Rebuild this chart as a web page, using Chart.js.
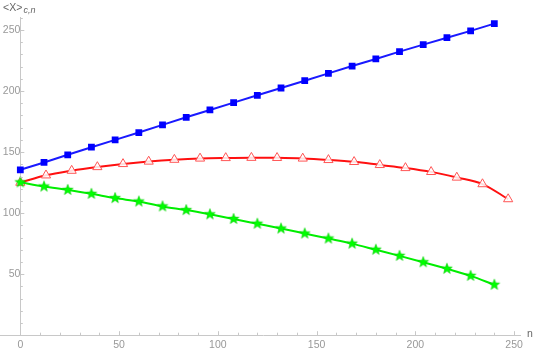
<!DOCTYPE html>
<html>
<head>
<meta charset="utf-8">
<script src="https://cdn.jsdelivr.net/npm/chart.js@4"></script>
<style>
  body { margin: 0; background: #fff; }
</style>
</head>
<body>
<canvas id="graph" width="534" height="350"></canvas>
<script>
// data
const blueN = [0, 12, 24, 36, 48, 60, 72, 84, 96, 108, 120, 132, 144, 156, 168, 180, 192, 204, 216, 228, 240];
const blueY = [135.5, 141.5, 147.8, 154, 160, 166, 172.3, 178.5, 184.5, 190.5, 196.5, 202.5, 208.5, 214.5, 220.5, 226.3, 232.3, 238, 243.7, 249.3, 255.2];

const redN = [0, 13, 26, 39, 52, 65, 78, 91, 104, 117, 130, 143, 156, 169, 182, 195, 208, 221, 234, 247];
const redY = [125, 131, 134.8, 137.8, 140.3, 142.3, 143.8, 144.8, 145.2, 145.4, 145.3, 144.8, 143.6, 142, 139.5, 137, 133.8, 129.2, 123.8, 111.5];

const greenN = [0, 12, 24, 36, 48, 60, 72, 84, 96, 108, 120, 132, 144, 156, 168, 180, 192, 204, 216, 228, 240];
const greenY = [125.2, 121.8, 119, 115.8, 112.3, 109.5, 105.5, 102.5, 99, 95.2, 91.3, 87.4, 83.3, 79.2, 75, 70, 65, 59.8, 54.4, 48.6, 41.3];

const xTicks = [0, 50, 100, 150, 200, 250];
const yTicks = [50, 100, 150, 200, 250];

function points(xs, ys) {
    let pts = [];
    for (let i = 0; i < xs.length; i++) {
        pts.push({ x: xs[i], y: ys[i] });
    }
    return pts;
}

// filled five point star for the green series
function starImage(r, color) {
    const c = document.createElement("canvas");
    const s = Math.ceil(r * 2 + 2);
    c.width = s;
    c.height = s;
    const g = c.getContext("2d");
    g.translate(s / 2, s / 2);
    g.beginPath();
    for (let i = 0; i < 10; i++) {
        const rad = i % 2 === 0 ? r : r * 0.42;
        const a = -Math.PI / 2 + i * Math.PI / 5;
        g.lineTo(Math.cos(a) * rad, Math.sin(a) * rad);
    }
    g.closePath();
    g.fillStyle = color;
    g.fill();
    g.strokeStyle = "#00cc00";
    g.lineWidth = 0.6;
    g.stroke();
    return c;
}

const gray = "#999999";
const axisGray = "#c8c8c8";

// ticks pointing inward + axis labels, like the original
const axesDeco = {
    id: "axesDeco",
    afterDraw(chart) {
        const ctx = chart.ctx;
        const x = chart.scales.x;
        const y = chart.scales.y;
        const x0 = x.getPixelForValue(0);
        const y0 = y.getPixelForValue(0);
        ctx.save();
        ctx.strokeStyle = axisGray;
        ctx.lineWidth = 1;
        ctx.beginPath();
        // x axis line runs out to the left edge, past the y axis
        ctx.moveTo(0, Math.round(y0) + 0.5);
        ctx.lineTo(chart.chartArea.left, Math.round(y0) + 0.5);
        for (let v = 0; v <= 250; v += 10) {
            const px = Math.round(x.getPixelForValue(v)) + 0.5;
            const len = v % 50 === 0 ? 4 : 2.5;
            ctx.moveTo(px, y0);
            ctx.lineTo(px, y0 - len);
        }
        for (let v = 10; v <= 260; v += 10) {
            const py = Math.round(y.getPixelForValue(v)) + 0.5;
            const len = v % 50 === 0 ? 4 : 2.5;
            ctx.moveTo(x0, py);
            ctx.lineTo(x0 + len, py);
        }
        ctx.stroke();

        ctx.fillStyle = "#666666";
        ctx.textBaseline = "alphabetic";
        ctx.font = "10.5px 'Liberation Sans', sans-serif";
        ctx.fillText("<X>", 3, 10.5);
        ctx.font = "italic 9px 'Liberation Sans', sans-serif";
        ctx.fillText("c,n", 23.5, 12.5);
        ctx.font = "10.5px 'Liberation Sans', sans-serif";
        ctx.fillText("n", 527, 337);
        ctx.restore();
    }
};

const ctx = document.getElementById("graph").getContext("2d");

new Chart(ctx, {
    type: "line",
    data: {
        datasets: [
            {
                label: "blue",
                data: points(blueN, blueY),
                borderColor: "#1a1aff",
                backgroundColor: "#0000ff",
                borderWidth: 2,
                pointStyle: "rect",
                pointRadius: 4.8,
                pointBorderWidth: 0,
                tension: 0,
                order: 2
            },
            {
                label: "red",
                data: points(redN, redY),
                borderColor: "#ff1010",
                pointBorderColor: "#ff5555",
                pointBackgroundColor: "rgba(255,255,255,0.85)",
                borderWidth: 2,
                pointStyle: "triangle",
                pointRadius: 5.3,
                pointBorderWidth: 1,
                cubicInterpolationMode: "monotone",
                order: 1
            },
            {
                label: "green",
                data: points(greenN, greenY),
                borderColor: "#00ee00",
                backgroundColor: "#00ff00",
                borderWidth: 2,
                pointStyle: starImage(5.6, "#00ff00"),
                cubicInterpolationMode: "monotone",
                order: 0
            }
        ]
    },
    options: {
        responsive: false,
        animation: false,
        layout: { padding: { left: 0, right: 14, top: 17.8, bottom: 14.8 } },
        plugins: {
            legend: { display: false },
            tooltip: { enabled: false }
        },
        scales: {
            x: {
                type: "linear",
                min: -7.1,
                max: 253,
                position: { y: 0 },
                grid: { display: false, drawTicks: false },
                border: { color: axisGray, width: 1 },
                afterBuildTicks: (s) => { s.ticks = xTicks.map(v => ({ value: v })); },
                ticks: {
                    color: gray,
                    padding: 4,
                    maxRotation: 0,
                    font: { family: "'Liberation Sans', sans-serif", size: 10.5 }
                }
            },
            y: {
                type: "linear",
                min: 0,
                max: 260,
                position: { x: 0 },
                grid: { display: false, drawTicks: false },
                border: { color: axisGray, width: 1 },
                afterBuildTicks: (s) => { s.ticks = yTicks.map(v => ({ value: v })); },
                ticks: {
                    color: gray,
                    padding: 3,
                    font: { family: "'Liberation Sans', sans-serif", size: 10.5 }
                }
            }
        }
    },
    plugins: [axesDeco]
});
</script>
</body>
</html>
